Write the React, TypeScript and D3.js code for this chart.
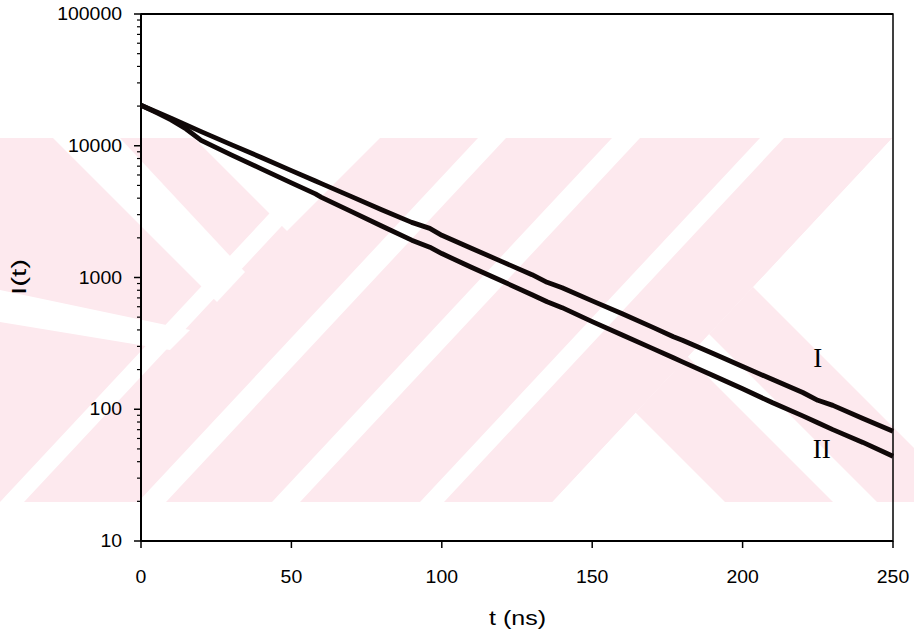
import React from "react";
import * as d3 from "d3";

// decay curves (t in ns, counts)
const times = [0, 5, 10, 15, 20, 30, 40, 50, 58, 60, 70, 80, 90, 96, 100, 110, 120, 130, 135, 140, 150, 160, 170, 177, 180, 190, 200, 210, 220, 225, 230, 240, 250];
const curveI = [20300, 18100, 16200, 14400, 12800, 10200, 8150, 6480, 5400, 5160, 4110, 3270, 2620, 2360, 2090, 1660, 1320, 1050, 920, 835, 665, 530, 420, 355, 334, 266, 211, 168, 134, 117, 107, 85, 68];
const curveII = [20300, 17900, 15700, 13400, 11000, 8530, 6680, 5230, 4310, 4060, 3160, 2460, 1920, 1700, 1520, 1190, 940, 740, 655, 590, 463, 366, 290, 246, 229, 181, 143, 112, 89, 79, 70, 56, 44];

const curveNames = ["I", "II"];
const labelT = [225, 226.3];
const labelV = [246, 50];

const xTicks = [0, 50, 100, 150, 200, 250];
const yTicks = [10, 100, 1000, 10000, 100000];

// background watermark of the scanned page (pixel polygons, decoration only)
const band = { y0: 138, y1: 502 };
const slashStripes = [[0, 24], [138, 166], [272, 300], [420, 444]];
const whiteShapes = [
  [[194, 138], [380, 138], [287, 231]],
  [[53, 138], [120, 138], [245, 272], [217, 302]],
  [[0, 290], [0, 322], [170, 350], [190, 330]],
];

export default function App() {
  const width = 914;
  const height = 635;
  const m = { left: 141, right: 893, top: 14, bottom: 541 };

  const x = d3.scaleLinear().domain([0, 250]).range([m.left, m.right]);
  const y = d3.scaleLog().domain([10, 100000]).range([m.bottom, m.top]);

  const line = d3
    .line<number>()
    .x((_, i) => x(times[i]))
    .y((d) => y(d));

  const minor: number[] = [];
  for (let dec = 10; dec < 100000; dec *= 10) {
    for (let k = 2; k <= 9; k++) minor.push(dec * k);
  }

  // right part of the watermark: everything right of the line L is white, crossed by pink bands
  const Lx = (yy: number) => 892 - ((892 - 552) * (yy - band.y0)) / (band.y1 - band.y0);
  const pts = (p: number[][]) => p.map((q) => q.join(",")).join(" ");
  const stripePts = (s: number[]) =>
    pts([
      [s[0], band.y1],
      [s[1], band.y1],
      [s[1] + 340, band.y0],
      [s[0] + 340, band.y0],
    ]);
  const rightWhite = [
    [Lx(band.y0), band.y0],
    [914, band.y0],
    [914, band.y1],
    [Lx(band.y1), band.y1],
  ];
  // pink region between y = x - c0 and y = x - c1
  const pinkBand = (c0: number, c1: number) => [
    [c1, 0],
    [1200, 1200 - c1],
    [1200, 1200 - c0],
    [c0, 0],
  ];

  const num = (v: number) => String(v).length * 10.8;

  return (
    <svg
      width={width}
      height={height}
      style={{ position: "absolute", left: 0, top: 0, background: "#fff" }}
      fontFamily="Liberation Sans, Arial, sans-serif"
    >
      <defs>
        <clipPath id="band">
          <rect x={0} y={band.y0} width={width} height={band.y1 - band.y0} />
        </clipPath>
        <clipPath id="rightOfL">
          <polygon points={pts(rightWhite)} />
        </clipPath>
      </defs>
      <g clipPath="url(#band)">
        <rect x={0} y={band.y0} width={width} height={band.y1 - band.y0} fill="#fde9ee" />
        {slashStripes.map((s, i) => (
          <polygon key={i} points={stripePts(s)} fill="#fff" />
        ))}
        {whiteShapes.map((s, i) => (
          <polygon key={i} points={pts(s)} fill="#fff" />
        ))}
        <g clipPath="url(#rightOfL)">
          <polygon points={pts(rightWhite)} fill="#fff" />
          <polygon points={pts(pinkBand(466, 375))} fill="#fde9ee" />
          <polygon points={pts(pinkBand(331, 223))} fill="#fde9ee" />
        </g>
      </g>

      {/* frame */}
      <rect x={m.left} y={m.top} width={m.right - m.left} height={m.bottom - m.top} fill="none" stroke="#000" strokeWidth={1.5} />
      <line x1={m.left} x2={m.left} y1={m.top} y2={m.bottom} stroke="#000" strokeWidth={2} />
      <line x1={m.left} x2={m.right} y1={m.bottom} y2={m.bottom} stroke="#000" strokeWidth={2} />
      <line x1={m.left} x2={m.right} y1={m.top} y2={m.top} stroke="#000" strokeWidth={2} />

      {/* y ticks */}
      {yTicks.map((t) => (
        <g key={t}>
          <line x1={m.left - 7} x2={m.left} y1={y(t)} y2={y(t)} stroke="#000" strokeWidth={1.5} />
          <text
            x={m.left - 19 - num(t)}
            y={y(t)}
            dy="0.35em"
            fontSize={17.5}
            textLength={num(t)}
            lengthAdjust="spacingAndGlyphs"
          >
            {t}
          </text>
        </g>
      ))}
      {minor.map((t) => (
        <line key={t} x1={m.left - 4} x2={m.left + 1} y1={y(t)} y2={y(t)} stroke="#000" strokeWidth={1.2} />
      ))}

      {/* x ticks */}
      {xTicks.map((t) => (
        <g key={t}>
          <line x1={x(t)} x2={x(t)} y1={m.bottom} y2={m.bottom + 7} stroke="#000" strokeWidth={1.5} />
          <text
            x={x(t) - num(t) / 2}
            y={m.bottom + 36}
            dy="0.35em"
            fontSize={17.5}
            textLength={num(t)}
            lengthAdjust="spacingAndGlyphs"
          >
            {t}
          </text>
        </g>
      ))}

      <text x={489} y={618} dy="0.35em" fontSize={20} textLength={57} lengthAdjust="spacingAndGlyphs">
        t (ns)
      </text>
      <text
        transform="translate(19,277) rotate(-90)"
        x={-18}
        dy="0.35em"
        fontSize={20}
        textLength={36}
        lengthAdjust="spacingAndGlyphs"
      >
        I(t)
      </text>

      {/* curves */}
      {[curveI, curveII].map((c, i) => (
        <path key={i} d={line(c) || ""} fill="none" stroke="#100808" strokeWidth={4.8} strokeLinejoin="round" />
      ))}

      {curveNames.map((n, i) => (
        <text
          key={n}
          x={x(labelT[i])}
          y={y(labelV[i])}
          dy="0.35em"
          textAnchor="middle"
          fontFamily="Liberation Serif, Times New Roman, serif"
          fontSize={27}
        >
          {n}
        </text>
      ))}
    </svg>
  );
}
